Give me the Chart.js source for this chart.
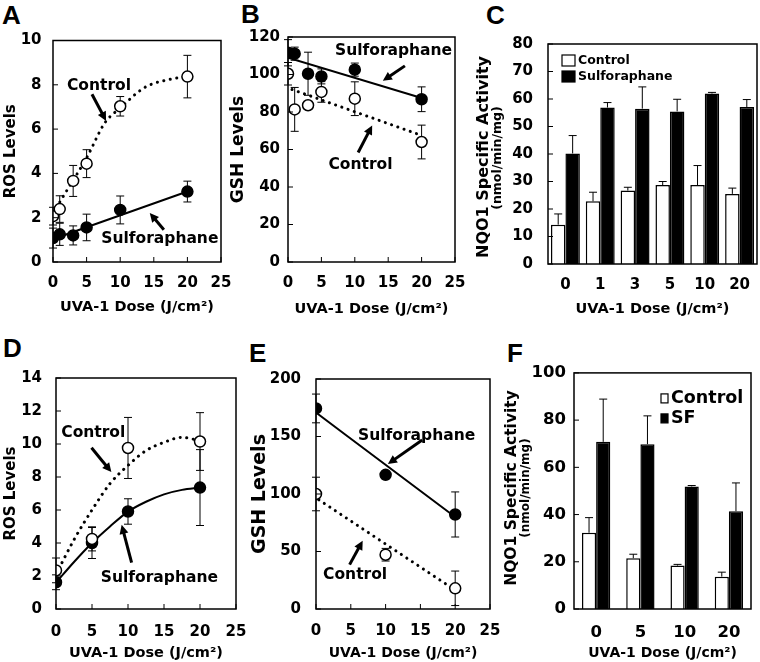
<!DOCTYPE html>
<html>
<head>
<meta charset="utf-8">
<script src="https://cdn.jsdelivr.net/npm/chart.js@4.4.1/dist/chart.umd.min.js"></script>
<style>
  body { margin: 0; width: 760px; height: 662px; background: #fff; position: relative; overflow: hidden; }
  .panel { position: absolute; }
  .letter { position: absolute; font: bold 26px "Liberation Sans", Arial, sans-serif; line-height: 26px; color: #000; }
</style>
</head>
<body>
<div class="letter" style="left:2px;top:2px">A</div>
<div class="letter" style="left:241px;top:1px">B</div>
<div class="letter" style="left:486px;top:2px">C</div>
<div class="letter" style="left:3px;top:335px">D</div>
<div class="letter" style="left:249px;top:340px">E</div>
<div class="letter" style="left:507px;top:340px">F</div>

<div class="panel" id="pA"><canvas id="cA"></canvas></div>
<div class="panel" id="pB"><canvas id="cB"></canvas></div>
<div class="panel" id="pC"><canvas id="cC"></canvas></div>
<div class="panel" id="pD"><canvas id="cD"></canvas></div>
<div class="panel" id="pE"><canvas id="cE"></canvas></div>
<div class="panel" id="pF"><canvas id="cF"></canvas></div>

<script>
// ---- data ----
// A: ROS levels
const doseA = [0, 1, 3, 5, 10, 20];
const rosCtrlA = [2.07, 2.39, 3.66, 4.44, 7.03, 8.37];
const rosCtrlErrA = [0.4, 0.6, 0.7, 0.63, 0.44, 0.96];
const rosSfA = [1.08, 1.25, 1.2, 1.56, 2.35, 3.18];
const rosSfErrA = [0.45, 0.5, 0.43, 0.6, 0.63, 0.47];
const fitCtrlDoseA = [0.5, 2, 5, 7.75, 10, 13.7, 17.6, 19.5];
const fitCtrlA = [2.45, 3.2, 4.7, 6.3, 6.95, 7.89, 8.26, 8.35];
const fitSfDoseA = [0, 20];
const fitSfA = [1.03, 3.18];

// B: GSH levels
const doseB = [0, 1, 3, 5, 10, 20];
const gshCtrlB = [100.4, 81.4, 83.6, 90.7, 87.1, 64];
const gshCtrlErrB = [6, 11.7, 2, 5.5, 9, 9];
const gshSfB = [111.6, 111.1, 100.4, 99, 102.6, 86.8];
const gshSfErrB = [7, 3.5, 11.5, 4, 3.5, 6.6];
const fitCtrlDoseB = [0.6, 20];
const fitCtrlB = [92, 67.5];
const fitSfDoseB = [0, 20];
const fitSfB = [108.9, 87.5];

// C: NQO1 activity
const doseC = ['0', '1', '3', '5', '10', '20'];
const nqoCtrlC = [14.3, 22.8, 26.7, 28.7, 28.7, 25.5];
const nqoCtrlErrC = [3.9, 3.3, 1.2, 1.3, 7.1, 2.1];
const nqoSfC = [40.2, 56.9, 56.5, 55.5, 62, 57.1];
const nqoSfErrC = [6.5, 1.8, 7.9, 4.4, 0.4, 2.7];

// D: ROS levels
const doseD = [0, 5, 10, 20];
const rosCtrlD = [2.34, 4.25, 9.76, 10.15];
const rosCtrlErrD = [0.75, 0.73, 1.85, 1.75];
const rosSfD = [1.62, 4.0, 5.91, 7.36];
const rosSfErrD = [0.45, 0.94, 0.77, 2.3];
const fitCtrlDoseD = [0, 2.5, 5, 7.5, 10, 12.5, 15, 17.5, 20];
const fitCtrlD = [2.1, 4.2, 6.0, 7.6, 8.7, 9.6, 10.1, 10.4, 10.2];
const fitSfDoseD = [0, 2.5, 5, 7.5, 10, 12.5, 15, 17.5, 20];
const fitSfD = [1.6, 2.85, 4.0, 5.0, 5.9, 6.5, 6.95, 7.22, 7.36];

// E: GSH levels
const doseE = [0, 10, 20];
const gshCtrlE = [100, 47.2, 18];
const gshCtrlErrE = [14.6, 5.5, 15];
const gshSfE = [174.4, 116.7, 82.2];
const gshSfErrE = [12.5, 3, 19.6];
const fitCtrlDoseE = [0.4, 19.6];
const fitCtrlE = [95, 18];
const fitSfDoseE = [0, 20];
const fitSfE = [170.8, 80];

// F: NQO1 activity
const doseF = ['0', '5', '10', '20'];
const nqoCtrlF = [32.3, 21.5, 18.4, 13.7];
const nqoCtrlErrF = [6.4, 1.7, 0.5, 1.9];
const nqoSfF = [70.8, 69.8, 51.9, 41.4];
const nqoSfErrF = [18.1, 12, 0.4, 12];

const FONT = '"DejaVu Sans", Verdana, sans-serif';
const DOSE_TITLE = 'UVA-1 Dose (J/cm\u00b2)';

function f(size) {
    return { family: FONT, size: size, weight: 'bold' };
}

function pts(xs, ys) {
    return xs.map((x, i) => ({ x: x, y: ys[i] }));
}

function drawArrow(ctx, x1, y1, x2, y2) {
    const ang = Math.atan2(y2 - y1, x2 - x1);
    const head = 9;
    ctx.save();
    ctx.strokeStyle = '#000';
    ctx.fillStyle = '#000';
    ctx.lineWidth = 3;
    ctx.beginPath();
    ctx.moveTo(x1, y1);
    ctx.lineTo(x2 - Math.cos(ang) * head * 0.8, y2 - Math.sin(ang) * head * 0.8);
    ctx.stroke();
    ctx.beginPath();
    ctx.moveTo(x2, y2);
    ctx.lineTo(x2 - head * Math.cos(ang) + 4.5 * Math.sin(ang), y2 - head * Math.sin(ang) - 4.5 * Math.cos(ang));
    ctx.lineTo(x2 - head * Math.cos(ang) - 4.5 * Math.sin(ang), y2 - head * Math.sin(ang) + 4.5 * Math.cos(ang));
    ctx.closePath();
    ctx.fill();
    ctx.restore();
}

// frame, inner ticks, error bars, notes, legends
function figPlugin(extra) {
    function drawErrors(chart) {
        const ctx = chart.ctx;
        const ys = chart.scales.y;
        ctx.save();
        ctx.strokeStyle = '#000';
        ctx.lineWidth = 1;
        (extra.errors || []).forEach(e => {
            const meta = chart.getDatasetMeta(e.ds);
            const data = chart.data.datasets[e.ds].data;
            meta.data.forEach((el, i) => {
                const v = typeof data[i] === 'object' ? data[i].y : data[i];
                const top = ys.getPixelForValue(v + e.err[i]);
                const bot = e.up ? ys.getPixelForValue(v) : ys.getPixelForValue(v - e.err[i]);
                ctx.beginPath();
                ctx.moveTo(el.x, top);
                ctx.lineTo(el.x, bot);
                ctx.moveTo(el.x - e.cap, top);
                ctx.lineTo(el.x + e.cap, top);
                if (!e.up) {
                    ctx.moveTo(el.x - e.cap, bot);
                    ctx.lineTo(el.x + e.cap, bot);
                }
                ctx.stroke();
            });
        });
        ctx.restore();
    }
    return {
        id: 'fig',
        beforeDatasetsDraw(chart) { if (!extra.bars) drawErrors(chart); },
        afterDatasetsDraw(chart) { if (extra.bars) drawErrors(chart); },
        afterDraw(chart) {
            const ctx = chart.ctx;
            const a = chart.chartArea;
            const xs = chart.scales.x, ys = chart.scales.y;
            ctx.save();
            ctx.strokeStyle = '#000';
            ctx.lineWidth = 1.5;
            ctx.strokeRect(a.left, a.top, a.right - a.left, a.bottom - a.top);
            ctx.lineWidth = 1;
            ctx.beginPath();
            ys.ticks.forEach(t => {
                const py = ys.getPixelForValue(t.value);
                ctx.moveTo(a.left, py);
                ctx.lineTo(a.left + 5, py);
            });
            if (!extra.bars) {
                xs.ticks.forEach(t => {
                    const px = xs.getPixelForValue(t.value);
                    ctx.moveTo(px, a.bottom);
                    ctx.lineTo(px, a.bottom - 5);
                });
            }
            ctx.stroke();

            ctx.fillStyle = '#000';
            ctx.textAlign = 'center';
            ctx.textBaseline = 'middle';
            (extra.notes || []).forEach(n => {
                ctx.font = 'bold 15.5px ' + FONT;
                ctx.fillText(n.text, xs.getPixelForValue(n.x), ys.getPixelForValue(n.y));
                drawArrow(ctx, xs.getPixelForValue(n.from[0]), ys.getPixelForValue(n.from[1]),
                    xs.getPixelForValue(n.to[0]), ys.getPixelForValue(n.to[1]));
            });

            // legend boxes, placed relative to the plot frame
            (extra.legend || []).forEach(l => {
                const ds = chart.data.datasets[l.ds];
                const bx = a.left + l.dx, by = a.top + l.dy;
                ctx.fillStyle = ds.backgroundColor;
                ctx.fillRect(bx, by, l.w, l.h);
                ctx.lineWidth = 1.2;
                ctx.strokeRect(bx, by, l.w, l.h);
                ctx.fillStyle = '#000';
                ctx.textAlign = 'left';
                ctx.font = 'bold ' + l.size + 'px ' + FONT;
                ctx.fillText(ds.label, bx + l.w + 3, by + l.h / 2 + 0.5);
            });

            // two-size y title for activity panels
            (extra.ytitle || []).forEach(t => {
                ctx.save();
                ctx.translate(t.x, t.y);
                ctx.rotate(-Math.PI / 2);
                ctx.textAlign = 'center';
                ctx.textBaseline = 'middle';
                ctx.font = 'bold ' + t.size + 'px ' + FONT;
                ctx.fillText(t.text, 0, 0);
                ctx.restore();
            });
            ctx.restore();
        }
    };
}

function place(id, g) {
    const el = document.getElementById(id);
    el.style.left = g.x0 + 'px';
    el.style.top = g.y0 + 'px';
    el.style.width = (g.x1 - g.x0) + 'px';
    el.style.height = (g.y1 - g.y0) + 'px';
}

function linePanel(p) {
    const g = p.geo;
    place(p.wrap, g);
    const datasets = [
        { label: 'Control', data: pts(p.dose, p.ctrl), showLine: false, pointRadius: 5.5,
          pointBorderWidth: 1.5, pointBackgroundColor: '#fff', pointBorderColor: '#000' },
        { label: 'Sulforaphane', data: pts(p.dose, p.sf), showLine: false, pointRadius: 5.5,
          pointBorderWidth: 1.5, pointBackgroundColor: '#000', pointBorderColor: '#000' },
        { label: 'Control fit', data: pts(p.fitCtrlX, p.fitCtrl), showLine: true, pointRadius: 0,
          borderColor: '#000', borderWidth: 3, borderDash: [0.1, 6.5], borderCapStyle: 'round',
          cubicInterpolationMode: 'monotone' },
        { label: 'Sulforaphane fit', data: pts(p.fitSfX, p.fitSf), showLine: true, pointRadius: 0,
          borderColor: '#000', borderWidth: 2, cubicInterpolationMode: 'monotone' }
    ];
    return new Chart(document.getElementById(p.canvas), {
        type: 'scatter',
        data: { datasets: datasets },
        options: {
            responsive: true,
            maintainAspectRatio: false,
            animation: false,
            events: [],
            layout: { autoPadding: false, padding: { top: g.t - g.y0, right: g.x1 - g.r, left: 0, bottom: 0 } },
            plugins: { legend: { display: false }, tooltip: { enabled: false } },
            scales: {
                x: {
                    type: 'linear', min: 0, max: 25,
                    ticks: { stepSize: 5, autoSkip: false, font: f(15), color: '#000', padding: p.xpad },
                    grid: { display: false, drawTicks: false },
                    border: { display: false },
                    title: { display: true, text: DOSE_TITLE, font: f(p.xtSize), color: '#000',
                             padding: { top: 0, bottom: p.xtPad } },
                    afterFit(s) { s.height = g.y1 - g.b; }
                },
                y: {
                    min: 0, max: p.ymax,
                    ticks: { stepSize: p.ystep, font: f(15), color: '#000', padding: p.ypad },
                    grid: { display: false, drawTicks: false },
                    border: { display: false },
                    title: { display: true, text: p.ytitle, font: f(p.ytSize), color: '#000',
                             padding: { top: p.ytPad, bottom: 0 } },
                    afterFit(s) { s.width = g.l - g.x0; }
                }
            }
        },
        plugins: [figPlugin({
            errors: [
                { ds: 0, err: p.ctrlErr, cap: 4 },
                { ds: 1, err: p.sfErr, cap: 4 }
            ],
            notes: p.notes
        })]
    });
}

function barPanel(p) {
    const g = p.geo;
    place(p.wrap, g);
    return new Chart(document.getElementById(p.canvas), {
        type: 'bar',
        data: {
            labels: p.dose,
            datasets: [
                { label: 'Control', data: p.ctrl, backgroundColor: '#fff', borderColor: '#000', borderWidth: 1.5,
                  categoryPercentage: p.cat, barPercentage: 1 },
                { label: p.sfLabel, data: p.sf, backgroundColor: '#000', borderColor: '#000', borderWidth: 1.5,
                  categoryPercentage: p.cat, barPercentage: 1 }
            ]
        },
        options: {
            responsive: true,
            maintainAspectRatio: false,
            animation: false,
            events: [],
            layout: { autoPadding: false, padding: { top: g.t - g.y0, right: g.x1 - g.r, left: 0, bottom: 0 } },
            plugins: { legend: { display: false }, tooltip: { enabled: false } },
            scales: {
                x: {
                    ticks: { font: f(p.tickSize), color: '#000', padding: p.xpad },
                    grid: { display: false, drawTicks: false },
                    border: { display: false },
                    title: { display: true, text: DOSE_TITLE, font: f(p.xtSize), color: '#000',
                             padding: { top: 0, bottom: p.xtPad } },
                    afterFit(s) { s.height = g.y1 - g.b; }
                },
                y: {
                    min: 0, max: p.ymax,
                    ticks: { stepSize: p.ystep, font: f(p.tickSize), color: '#000', padding: p.ypad },
                    grid: { display: false, drawTicks: false },
                    border: { display: false },
                    afterFit(s) { s.width = g.l - g.x0; }
                }
            }
        },
        plugins: [figPlugin({
            bars: true,
            errors: [
                { ds: 0, err: p.ctrlErr, cap: 4, up: true },
                { ds: 1, err: p.sfErr, cap: 4, up: true }
            ],
            legend: p.legend,
            ytitle: p.ytitles
        })]
    });
}

linePanel({
    wrap: 'pA', canvas: 'cA',
    geo: { x0: 0, y0: 20, x1: 249, y1: 322, l: 53, t: 36, r: 221, b: 262 },
    dose: doseA, ctrl: rosCtrlA, ctrlErr: rosCtrlErrA, sf: rosSfA, sfErr: rosSfErrA,
    fitCtrlX: fitCtrlDoseA, fitCtrl: fitCtrlA, fitSfX: fitSfDoseA, fitSf: fitSfA,
    ymax: 10, ystep: 2, ytitle: 'ROS Levels', ytSize: 15, ytPad: 2.5, ypad: 11.5,
    xpad: 12, xtSize: 14.5, xtPad: 6,
    notes: [
        { text: 'Control', x: 6.85, y: 7.96, from: [5.8, 7.57], to: [7.9, 6.37] },
        { text: 'Sulforaphane', x: 15.9, y: 1.02, from: [16.5, 1.46], to: [14.4, 2.21] }
    ]
});

linePanel({
    wrap: 'pB', canvas: 'cB',
    geo: { x0: 227, y0: 20, x1: 483, y1: 322, l: 288, t: 36, r: 455, b: 262 },
    dose: doseB, ctrl: gshCtrlB, ctrlErr: gshCtrlErrB, sf: gshSfB, sfErr: gshSfErrB,
    fitCtrlX: fitCtrlDoseB, fitCtrl: fitCtrlB, fitSfX: fitSfDoseB, fitSf: fitSfB,
    ymax: 120, ystep: 20, ytitle: 'GSH Levels', ytSize: 17, ytPad: 1.8, ypad: 8,
    xpad: 12, xtSize: 14.5, xtPad: 4,
    notes: [
        { text: 'Sulforaphane', x: 15.8, y: 112.3, from: [17.5, 104.6], to: [14.2, 96.7] },
        { text: 'Control', x: 10.85, y: 51.5, from: [10.5, 58.4], to: [12.6, 72.8] }
    ]
});

barPanel({
    wrap: 'pC', canvas: 'cC',
    geo: { x0: 474, y0: 20, x1: 763, y1: 322, l: 548, t: 36, r: 757, b: 264 },
    dose: doseC, ctrl: nqoCtrlC, ctrlErr: nqoCtrlErrC, sf: nqoSfC, sfErr: nqoSfErrC,
    sfLabel: 'Sulforaphane', cat: 0.83, tickSize: 15,
    ymax: 80, ystep: 10, ypad: 15, xpad: 12, xtSize: 14.5, xtPad: 4,
    legend: [
        { ds: 0, dx: 14, dy: 11, w: 13, h: 11, size: 12.5 },
        { ds: 1, dx: 14, dy: 27, w: 13, h: 11, size: 12.5 }
    ],
    ytitles: [
        { text: 'NQO1 Specific Activity', x: 10, y: 137, size: 16 },
        { text: '(nmol/min/mg)', x: 23.5, y: 138, size: 12.5 }
    ]
});

linePanel({
    wrap: 'pD', canvas: 'cD',
    geo: { x0: 0, y0: 355, x1: 264, y1: 662, l: 56, t: 371, r: 236, b: 609 },
    dose: doseD, ctrl: rosCtrlD, ctrlErr: rosCtrlErrD, sf: rosSfD, sfErr: rosSfErrD,
    fitCtrlX: fitCtrlDoseD, fitCtrl: fitCtrlD, fitSfX: fitSfDoseD, fitSf: fitSfD,
    ymax: 14, ystep: 2, ytitle: 'ROS Levels', ytSize: 15, ytPad: 2.5, ypad: 14,
    xpad: 14, xtSize: 14.5, xtPad: 0.5,
    notes: [
        { text: 'Control', x: 5.18, y: 10.69, from: [4.93, 9.77], to: [7.69, 8.3] },
        { text: 'Sulforaphane', x: 14.36, y: 1.9, from: [10.5, 2.81], to: [9.12, 5.1] }
    ]
});

linePanel({
    wrap: 'pE', canvas: 'cE',
    geo: { x0: 248, y0: 355, x1: 518, y1: 662, l: 316, t: 369, r: 490, b: 609 },
    dose: doseE, ctrl: gshCtrlE, ctrlErr: gshCtrlErrE, sf: gshSfE, sfErr: gshSfErrE,
    fitCtrlX: fitCtrlDoseE, fitCtrl: fitCtrlE, fitSfX: fitSfDoseE, fitSf: fitSfE,
    ymax: 200, ystep: 50, ytitle: 'GSH Levels', ytSize: 19, ytPad: 0.6, ypad: 15,
    xpad: 13.4, xtSize: 14, xtPad: 0.5,
    notes: [
        { text: 'Sulforaphane', x: 14.46, y: 150.7, from: [15.26, 146.9], to: [10.33, 126.1] },
        { text: 'Control', x: 5.62, y: 29.4, from: [4.83, 38.6], to: [6.71, 59.4] }
    ]
});

barPanel({
    wrap: 'pF', canvas: 'cF',
    geo: { x0: 500, y0: 355, x1: 760, y1: 662, l: 574, t: 371, r: 751, b: 609 },
    dose: doseF, ctrl: nqoCtrlF, ctrlErr: nqoCtrlErrF, sf: nqoSfF, sfErr: nqoSfErrF,
    sfLabel: 'SF', cat: 0.64, tickSize: 16.5,
    ymax: 100, ystep: 20, ypad: 8, xpad: 13.5, xtSize: 14, xtPad: 0.5,
    legend: [
        { ds: 0, dx: 87, dy: 21, w: 7, h: 9, size: 17.5 },
        { ds: 1, dx: 87, dy: 41, w: 7, h: 9, size: 17.5 }
    ],
    ytitles: [
        { text: 'NQO1 Specific Activity', x: 12, y: 133, size: 15.5 },
        { text: '(nmol/min/mg)', x: 25.5, y: 133, size: 12 }
    ]
});
</script>
</body>
</html>
